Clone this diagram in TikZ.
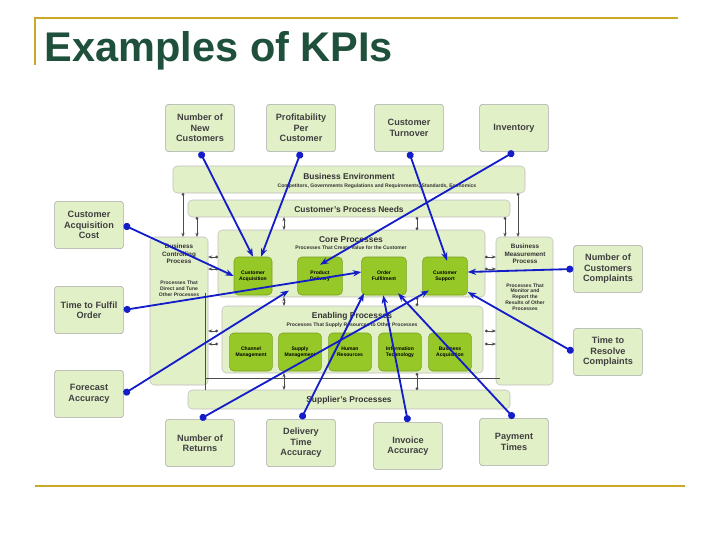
\documentclass[tikz,border=0pt]{standalone}
\usepackage{fontspec}
\setmainfont{Liberation Sans}
\usetikzlibrary{arrows.meta,patterns}
\definecolor{gold}{RGB}{200,170,40}
\definecolor{titlecol}{RGB}{30,80,60}
\definecolor{pale}{RGB}{226,240,200}
\definecolor{leaf}{RGB}{150,200,40}
\definecolor{kpiblue}{RGB}{20,30,200}
\begin{document}
\begin{tikzpicture}[x=0.025cm,y=-0.025cm,
  kpi/.style={draw=gray!70,fill=pale,rounded corners=2pt,minimum width=1.72cm,minimum height=1.18cm,align=center,font=\fontsize{6.5}{7.5}\selectfont\bfseries,text=black!75,inner sep=1pt},
  bar/.style={draw=gray!50,fill=pale,rounded corners=3pt},
  proc/.style={draw=leaf!80!black,fill=leaf,rounded corners=3pt,align=center,font=\fontsize{3.6}{4.2}\selectfont\bfseries,inner sep=0.5pt},
  hd/.style={font=\fontsize{6}{7}\selectfont\bfseries,text=black!80},
  sub/.style={font=\fontsize{3.6}{4.2}\selectfont\bfseries,text=black!80,align=center},
  kpiarrow/.style={draw=kpiblue,line width=1.3pt,-{Stealth[length=5pt]}},
  link/.style={draw=black!70,line width=0.5pt,{Circle[length=2pt]}-{Stealth[length=3pt]}}]
  \useasboundingbox (0,0) rectangle (720,540);
  % title and frame
  \draw[gold,line width=1.5pt] (35,65) -- (35,18) -- (678,18);
  \draw[gold,line width=1.5pt] (35,486) -- (685,486);
  \node[anchor=west,font=\fontsize{29.5}{32}\selectfont\bfseries,text=titlecol] (title) at (40,51) {Examples of KPIs};

  % process model
  \draw[bar] (173,166) rectangle (525,193);
  \node[hd] (env) at (349,176) {Business Environment};
  \node[sub] (envs) at (377,186) {Competitors, Governments Regulations and Requirements, Standards, Economics};
  \draw[bar] (188,200) rectangle (510,217);
  \node[hd] (needs) at (349,209) {Customer's Process Needs};
  \draw[bar] (150,237) rectangle (208,385);
  \node[sub,font=\fontsize{4.5}{5.2}\selectfont\bfseries] (ctrl) at (179,254) {Business\\Controlling\\Process};
  \node[sub] (ctrls) at (179,289) {Processes That\\Direct and Tune\\Other Processes};
  \draw[bar] (496,237) rectangle (553,385);
  \node[sub,font=\fontsize{4.5}{5.2}\selectfont\bfseries] (meas) at (525,254) {Business\\Measurement\\Process};
  \node[sub] (meass) at (525,297) {Processes That\\Monitor and\\Report the\\Results of Other\\Processes};
  \draw[bar] (218,230) rectangle (485,297);
  \node[hd] (core) at (351,240) {Core Processes};
  \node[sub] (cores) at (351,248) {Processes That Create Value for the Customer};
  \node[proc,minimum width=0.95cm,minimum height=0.95cm] (acq) at (253,276) {Customer\\Acquisition};
  \node[proc,minimum width=1.12cm,minimum height=0.95cm] (del) at (320,276) {Product\\Delivery};
  \node[proc,minimum width=1.12cm,minimum height=0.95cm] (ful) at (384,276) {Order\\Fulfilment};
  \node[proc,minimum width=1.12cm,minimum height=0.95cm] (sup) at (445,276) {Customer\\Support};
  \draw[bar] (222,306) rectangle (483,373);
  \node[hd] (enab) at (352,316) {Enabling Processes};
  \node[sub] (enabs) at (352,325) {Processes That Supply Resources to Other Processes};
  \foreach \n/\x/\t in {chan/251/Channel\\Management,supm/300/Supply\\Management,hr/350/Human\\Resources,it/400/Information\\Technology,bacq/450/Business\\Acquisition}
    \node[proc,minimum width=1.07cm,minimum height=0.95cm] (\n) at (\x,352) {\t};
  \draw[bar] (188,390) rectangle (510,409);
  \node[hd] (supp) at (349,400) {Supplier's Processes};

  % links between processes
  \draw[link] (183,193) -- (183,237);
  \draw[link] (518,193) -- (518,237);
  \draw[link] (197,217) -- (197,237);
  \draw[link] (505,217) -- (505,237);
  \draw[link,{Stealth[length=3pt]}-{Stealth[length=3pt]}] (284,217) -- (284,230);
  \draw[link,{Circle[length=2pt]}-{Circle[length=2pt]}] (417,217) -- (417,230);
  \draw[link,{Stealth[length=3pt]}-{Stealth[length=3pt]}] (284,297) -- (284,306);
  \draw[link,{Circle[length=2pt]}-{Circle[length=2pt]}] (417,297) -- (417,306);
  \draw[link,{Stealth[length=3pt]}-{Stealth[length=3pt]}] (284,373) -- (284,390);
  \draw[link,{Circle[length=2pt]}-{Circle[length=2pt]}] (417,373) -- (417,390);
  \draw[draw=black!70,line width=0.5pt] (205,293) -- (205,390) (205,378) -- (500,378);
  \foreach \y in {257,269,331,344}{
    \draw[link,{Stealth[length=3pt]}-{Circle[length=2pt]}] (208,\y) -- (218,\y);
    \draw[link,{Circle[length=2pt]}-{Stealth[length=3pt]}] (485,\y) -- (496,\y);
  }

  % KPI boxes
  \node[kpi] (newc) at (200,128) {Number of\\New\\Customers};
  \node[kpi] (prof) at (301,128) {Profitability\\Per\\Customer};
  \node[kpi] (turn) at (409,128) {Customer\\Turnover};
  \node[kpi] (inv) at (514,128) {Inventory};
  \node[kpi] (cac) at (89,225) {Customer\\Acquisition\\Cost};
  \node[kpi] (tfo) at (89,310) {Time to Fulfil\\Order};
  \node[kpi] (fca) at (89,394) {Forecast\\Accuracy};
  \node[kpi] (ncc) at (608,269) {Number of\\Customers\\Complaints};
  \node[kpi] (trc) at (608,352) {Time to\\Resolve\\Complaints};
  \node[kpi] (ret) at (200,443) {Number of\\Returns};
  \node[kpi] (dta) at (301,443) {Delivery\\Time\\Accuracy};
  \node[kpi] (inva) at (408,446) {Invoice\\Accuracy};
  \node[kpi] (pay) at (514,442) {Payment\\Times};

  % KPI arrows
  \begin{scope}[every path/.style={kpiarrow,{Circle[length=5pt]}-{Stealth[length=6pt]}}]
    \draw (newc.south) -- (acq.north);
    \draw (prof.south) -- ([xshift=0.2cm]acq.north);
    \draw (turn.south) -- ([xshift=0.05cm,yshift=-0.1cm]sup.north);
    \draw (inv.south) -- ([yshift=-0.2cm]del.north);
    \draw (cac.east) -- (acq.west);
    \draw (tfo.east) -- ([yshift=0.1cm]ful.west);
    \draw (fca.east) -- ([xshift=0.9cm,yshift=0.12cm]acq.south);
    \draw (ret.north) -- ([xshift=-0.4cm,yshift=0.12cm]sup.south);
    \draw (dta.north) -- ([xshift=-0.5cm,yshift=0.05cm]ful.south);
    \draw (inva.north) -- ([xshift=-0.02cm]ful.south);
    \draw (pay.north) -- ([xshift=0.35cm,yshift=0.05cm]ful.south);
    \draw (ncc.west) -- ([yshift=0.1cm]sup.east);
    \draw (trc.west) -- ([yshift=-0.4cm]sup.east);
  \end{scope}
\end{tikzpicture}
\end{document}
